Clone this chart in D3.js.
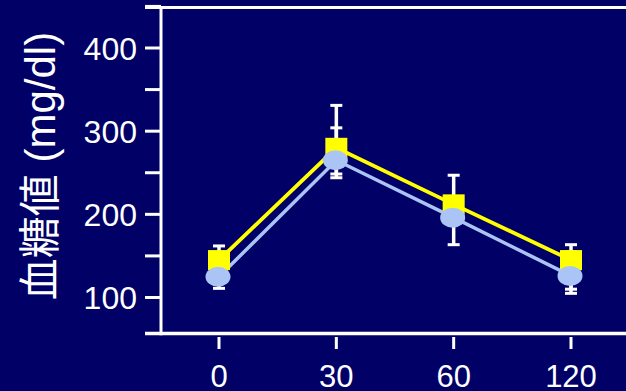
<!DOCTYPE html>
<html>
<head>
<meta charset="utf-8">
<script src="https://cdn.jsdelivr.net/npm/d3@7/dist/d3.min.js"></script>
<style>
  html, body { margin: 0; padding: 0; background: #000066; overflow: hidden; }
  svg { display: block; }
  text { font-family: "Liberation Sans", Arial, "Noto Sans CJK JP", sans-serif; fill: #ffffff; }
</style>
</head>
<body>
<svg id="chart" width="626" height="391"></svg>
<script>
// Time points (minutes) and blood glucose readings (mg/dl)
const timePoints = ["0", "30", "60", "120"];
const yellowMean = [145, 280, 212, 145];
const yellowHigh = [162, 331, 247, 163.5];
const yellowLow  = [null, 244, null, 110];
const blueMean   = [125, 265, 196, 126];
const blueHigh   = [null, 304, null, 155];
const blueLow    = [111, 248.5, 163.5, 105];
const yTickValues = [100, 150, 200, 250, 300, 350, 400, 450];
const yTickLabels = [100, 200, 300, 400];
const yTitle = "血糖値 (mg/dl)";

const W = 626, H = 391;
const bg = "#000066", white = "#ffffff";
const yellow = "#ffff00", blue = "#a9c4f5";

const plotLeft = 161, plotTop = 7.5, plotBottom = 333.5;

const svg = d3.select("#chart");
svg.append("rect").attr("width", W).attr("height", H).attr("fill", bg);

const x = d3.scalePoint().domain(timePoints).range([219, 571]);
const y = d3.scaleLinear().domain([100, 400]).range([297.5, 48]);

// Frame: left axis, top and bottom edges (right edge lies beyond the view)
const frame = svg.append("g").attr("stroke", white).attr("fill", "none");
frame.append("line").attr("x1", plotLeft).attr("x2", plotLeft)
  .attr("y1", plotTop - 1.5).attr("y2", plotBottom + 1.8).attr("stroke-width", 3);
frame.append("line").attr("x1", 145).attr("x2", W)
  .attr("y1", plotTop).attr("y2", plotTop).attr("stroke-width", 3);
frame.append("line").attr("x1", 145).attr("x2", W)
  .attr("y1", plotBottom).attr("y2", plotBottom).attr("stroke-width", 3.5);

// Y ticks
frame.selectAll(".ytick").data(yTickValues).join("line")
  .attr("x1", 145).attr("x2", plotLeft)
  .attr("y1", d => y(d)).attr("y2", d => y(d))
  .attr("stroke-width", 3);

svg.selectAll(".ylab").data(yTickLabels).join("text")
  .attr("x", 137).attr("y", d => y(d)).attr("dy", "0.36em")
  .attr("text-anchor", "end").attr("font-size", 32)
  .text(d => d);

// X ticks and labels
frame.selectAll(".xtick").data(timePoints).join("line")
  .attr("x1", d => x(d)).attr("x2", d => x(d))
  .attr("y1", 337).attr("y2", 349).attr("stroke-width", 3);

svg.selectAll(".xlab").data(timePoints).join("text")
  .attr("x", d => x(d)).attr("y", 387)
  .attr("text-anchor", "middle").attr("font-size", 31)
  .text(d => d);

// Y axis title
svg.append("text")
  .attr("transform", `translate(55,166) rotate(-90)`)
  .attr("text-anchor", "middle").attr("font-size", 42)
  .text(yTitle);

// Error bars (white, behind the markers)
function errorBars(mean, hi, lo) {
  const g = svg.append("g").attr("stroke", white).attr("fill", "none");
  timePoints.forEach((t, i) => {
    [hi[i], lo[i]].forEach(end => {
      if (end == null) return;
      g.append("line").attr("x1", x(t)).attr("x2", x(t))
        .attr("y1", y(mean[i])).attr("y2", y(end)).attr("stroke-width", 3.5);
      g.append("line").attr("x1", x(t) - 6).attr("x2", x(t) + 6)
        .attr("y1", y(end)).attr("y2", y(end)).attr("stroke-width", 3);
    });
  });
}
errorBars(yellowMean, yellowHigh, yellowLow);
errorBars(blueMean, blueHigh, blueLow);

// Lines
const line = d3.line().x(d => x(d[0])).y(d => y(d[1]));
svg.append("path").datum(timePoints.map((t, i) => [t, yellowMean[i]]))
  .attr("d", line).attr("fill", "none").attr("stroke", yellow).attr("stroke-width", 3.8);
svg.append("path").datum(timePoints.map((t, i) => [t, blueMean[i]]))
  .attr("d", line).attr("fill", "none").attr("stroke", blue).attr("stroke-width", 3.5);

// Markers: yellow squares, then blue circles on top
svg.selectAll(".sq").data(timePoints).join("rect")
  .attr("x", d => x(d) - 11).attr("y", (d, i) => y(yellowMean[i]) - 10)
  .attr("width", 22).attr("height", 20).attr("fill", yellow);
svg.selectAll(".ci").data(timePoints).join("ellipse")
  .attr("cx", d => x(d) - 1).attr("cy", (d, i) => y(blueMean[i]))
  .attr("rx", 12.5).attr("ry", 10).attr("fill", blue);
</script>
</body>
</html>
